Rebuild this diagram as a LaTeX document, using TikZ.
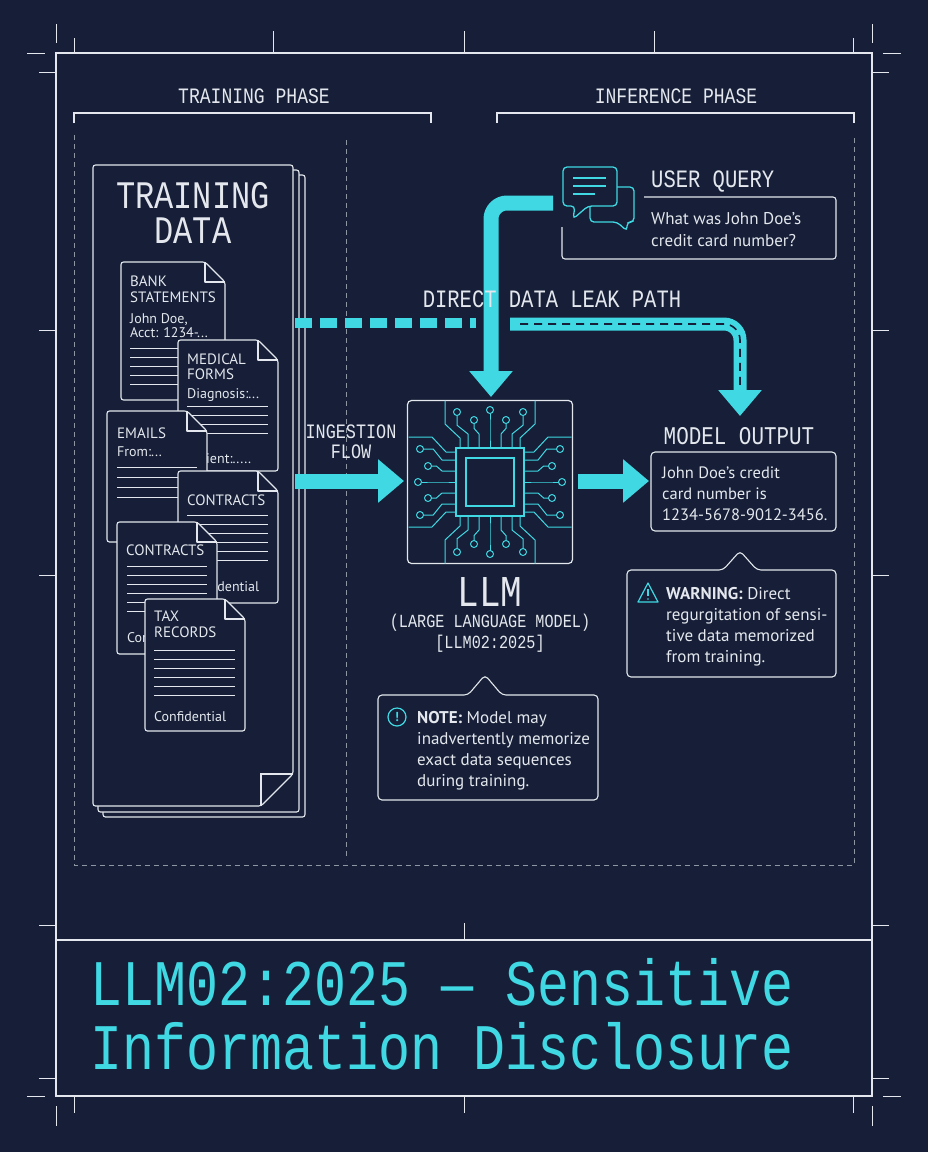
\documentclass[tikz,border=0pt]{standalone}
\usepackage{fontspec}
\setmainfont{PT Sans}
\newfontfamily\mono{Liberation Mono}[FakeStretch=0.82]
\usetikzlibrary{arrows.meta}
\definecolor{bg}{HTML}{161F37}
\definecolor{wl}{HTML}{E4E8EE}
\definecolor{cy}{HTML}{3FD8E3}
\definecolor{gd}{HTML}{8E96A3}
\tikzset{
  wline/.style={draw=wl,line width=1.2pt},
  docline/.style={draw=wl,line width=1.1pt,fill=bg,rounded corners=2.5pt},
  txtline/.style={draw=wl,line width=0.9pt},
  gdash/.style={draw=gd,line width=1pt,dash pattern=on 5pt off 4pt},
  trace/.style={draw=cy,line width=1pt},
  mt/.style={text=wl,inner sep=0pt,font=\mono\fontsize{#1}{#1}\selectfont},
  st/.style={text=wl,inner sep=0pt,anchor=base west,font=\fontsize{#1}{#1}\selectfont},
  bigarrow/.style={draw=cy,line width=15pt,-{Triangle[width=42pt,length=26pt]}},
}
\newcommand\pdoc[4]{%
  \draw[docline] (#1,#2) -- ({#1+#3-20},#2) -- ({#1+#3},{#2+20}) -- ({#1+#3},{#2+#4}) -- (#1,{#2+#4}) -- cycle;
  \draw[wl,line width=1.1pt,line join=round] ({#1+#3-20},#2) -- ({#1+#3-20},{#2+20}) -- ({#1+#3},{#2+20});}
\newcommand\dlines[5]{\foreach \k in {1,...,#4}{\draw[txtline] (#1,{#3+(\k-1)*#5}) -- (#2,{#3+(\k-1)*#5});}}
\begin{document}
\begin{tikzpicture}[x=1pt,y=-1pt]
\fill[bg] (0,0) rectangle (928,1152);
\useasboundingbox (0,0) rectangle (928,1152);
% frame
\draw[wline] (56,53) rectangle (872,1096);
\draw[wline] (56,940) -- (872,940);
\foreach \x/\l in {74/15,273/22,464/22,654/22,853/15}{\draw[wl,line width=1pt] (\x,53) -- (\x,53-\l);}
\draw[wl,line width=1pt] (464,940) -- (464,923);
\foreach \x in {74,464,853}{\draw[wl,line width=1pt] (\x,1096) -- (\x,1113);}
\foreach \x in {56,872}{\draw[wl,line width=1pt] (\x,24) -- (\x,43); \draw[wl,line width=1pt] (\x,1106) -- (\x,1126);}
\draw[wl,line width=1pt] (27,53) -- (45,53) (883,53) -- (901,53) (27,1096) -- (45,1096) (883,1096) -- (901,1096);
\foreach \y in {72,330,575,925,1078}{\draw[wl,line width=1pt] (39,\y) -- (56,\y) (872,\y) -- (889,\y);}
% phases
\node[mt=22] (tph) at (254,96) {TRAINING PHASE};
\node[mt=22] (iph) at (676,96) {INFERENCE PHASE};
\draw[wline] (74,123) -- (74,113) -- (431,113) -- (431,123);
\draw[wline] (497,123) -- (497,113) -- (854,113) -- (854,123);
\draw[gdash] (74,135) -- (74,865) -- (854,865) -- (854,135);
\draw[gdash] (346,140) -- (346,860);
% training data stack
\draw[docline] (103,175) -- (305,175) -- (305,817) -- (103,817) -- cycle;
\draw[docline] (98,170) -- (299,170) -- (299,812) -- (98,812) -- cycle;
\draw[docline] (93,165) -- (293,165) -- (293,774) -- (261,806) -- (93,806) -- cycle;
\draw[wl,line width=1.1pt] (293,774) -- (261,774) -- (261,806);
\node[mt=39,anchor=base,text height=27pt,text depth=0pt] (td1) at (193,208) {TRAINING};
\node[mt=39,anchor=base,text height=27pt,text depth=0pt] (td2) at (193,243) {DATA};
% bank
\pdoc{121}{262}{104}{138}
\node[st=15] (b1) at (130,286) {BANK};
\node[st=15] (b2) at (130,302) {STATEMENTS};
\node[st=14] (b3) at (130,323) {John Doe,};
\node[st=14] (b4) at (130,337) {Acct: 1234-...};
\dlines{130}{198}{348}{5}{9}
% medical
\pdoc{178}{340}{100}{131}
\node[st=15] (m1) at (187,364) {MEDICAL};
\node[st=15] (m2) at (187,379) {FORMS};
\node[st=14] (m3) at (187,398) {Diagnosis:...};
\dlines{187}{268}{406}{4}{9}
\node[st=14] (m4) at (187,463) {Patient:.....};
% emails
\pdoc{107}{411}{100}{131}
\node[st=15] (e1) at (117,438) {EMAILS};
\node[st=14] (e2) at (117,456) {From:...};
\dlines{117}{197}{467}{4}{10}
% contracts 1
\pdoc{178}{471}{100}{132}
\node[st=15] (c1) at (187,505) {CONTRACTS};
\dlines{187}{268}{515}{6}{9}
\node[st=14] (c2) at (187,591) {Confidential};
% contracts 2
\pdoc{117}{522}{100}{132}
\node[st=15] (d1) at (126,555) {CONTRACTS};
\dlines{127}{207}{566}{6}{9}
\node[st=14] (d2) at (127,642) {Confidential};
% tax
\pdoc{145}{599}{100}{132}
\node[st=15] (x1) at (154,621) {TAX};
\node[st=15] (x2) at (154,637) {RECORDS};
\dlines{154}{235}{650}{6}{9}
\node[st=14] (x3) at (154,721) {Confidential};
% chip
\node[draw=wl,line width=1.2pt,rounded corners=4pt,minimum width=165pt,minimum height=163pt,inner sep=0pt] (chip) at (490,482) {};
\begin{scope}[shift={(490,482)}]
\draw[cy,line width=1.5pt] (-34,-34) rectangle (34,34);
\draw[cy,line width=1.5pt] (-24,-24) rectangle (24,24);
\foreach \r in {0,90,180,270}{
 \begin{scope}[rotate=\r]
  \foreach \d/\ex/\ey in {-22/-33/-70,-11/-16/-62,0/0/-72,11/16/-62,22/33/-70}{
    \draw[trace] (\d,-34) -- (\d,-48) -- (\ex,{-48+(\ey+48)*0.4}) -- (\ex,\ey+3.5);
    \draw[trace] (\ex,\ey) circle (3.5);}
  \draw[trace] (-30,-34) -- (-30,-44) -- (-45,-58) -- (-45,-81.5);
  \draw[trace] (30,-34) -- (30,-44) -- (45,-58) -- (45,-81.5);
 \end{scope}}
\end{scope}
\node[mt=44] (llm) at (490,592) {LLM};
\node[mt=18.5] (llm2) at (490,623) {(LARGE LANGUAGE MODEL)};
\node[mt=18.5] (llm3) at (490,644) {[LLM02:2025]};
% note
\draw[docline,rounded corners=4pt] (378,695) -- (468,695) -- (485,675) -- (502,695) -- (598,695) -- (598,800) -- (378,800) -- cycle;
\node[circle,draw=cy,line width=1.2pt,minimum size=18pt,inner sep=0pt,text=cy,font=\bfseries\fontsize{13}{13}\selectfont] (ni) at (397,717) {!};
\node[st=17,anchor=base west] (n1) at (417,723) {\textbf{NOTE:} Model may};
\node[st=17] (n2) at (417,744) {inadvertently memorize};
\node[st=17] (n3) at (417,765) {exact data sequences};
\node[st=17] (n4) at (417,786) {during training.};
% user query
\draw[docline,rounded corners=3pt,fill=none] (644,197) -- (836,197) -- (836,259) -- (562,259) -- (562,227);
\draw[cy,line width=1.3pt,fill=bg,rounded corners=4pt] (590,187) -- (634,187) -- (634,222) -- (627,222) -- (627,231) -- (617,222) -- (590,222) -- cycle;
\draw[cy,line width=1.3pt,fill=bg,rounded corners=4pt] (563,167) -- (617,167) -- (617,206) -- (588,206) -- (573,219) -- (575,206) -- (563,206) -- cycle;
\draw[cy,line width=1.3pt] (573,178) -- (606,178) (573,186) -- (606,186) (573,194) -- (595,194);
\node[mt=25,anchor=west] (uq) at (651,181) {USER QUERY};
\node[st=17] (q1) at (651,224) {What was John Doe's};
\node[st=17] (q2) at (651,246) {credit card number?};
% arrows
\coordinate (qa) at (553,203);
\coordinate (qb) at (491,203);
\coordinate (qc) at (491,397);
\draw[bigarrow,rounded corners=16pt] (qa) -- (qb) -- (qc);
\node[mt=25] (leak) at (552,299) {DIRECT DATA LEAK PATH};
\coordinate (la) at (295,323);
\coordinate (lb) at (476,323);
\draw[cy,line width=10pt,dash pattern=on 17pt off 8pt] (la) -- (lb);
\coordinate (lc) at (510,324);
\coordinate (ld) at (740,324);
\coordinate (le) at (740,416);
\draw[draw=cy,line width=13pt,-{Triangle[width=42pt,length=26pt]},rounded corners=16pt] (lc) -- (ld) -- (le);
\draw[bg,line width=1.6pt,dash pattern=on 8pt off 6pt,rounded corners=16pt] (520,324) -- (740,324) -- (740,388);
\node[mt=20.5] (ing1) at (351,432) {INGESTION};
\node[mt=20.5] (ing2) at (351,452) {FLOW};
\coordinate (ia) at (295,481);
\coordinate (ib) at (404,481);
\draw[bigarrow] (ia) -- (ib);
\coordinate (oa) at (578,481);
\coordinate (ob) at (649,481);
\draw[bigarrow] (oa) -- (ob);
% model output
\node[mt=25.5] (mo) at (739,436) {MODEL OUTPUT};
\draw[docline,rounded corners=4pt] (651,452) rectangle (836,531);
\node[st=16.5] (o1) at (662,478) {John Doe's credit};
\node[st=16.5] (o2) at (662,499) {card number is};
\node[st=16.5] (o3) at (662,520) {1234-5678-9012-3456.};
% warning
\draw[docline,rounded corners=4pt] (627,570) -- (723,570) -- (740,551) -- (757,570) -- (836,570) -- (836,677) -- (627,677) -- cycle;
\draw[cy,line width=1.2pt,line join=round] (638,602) -- (648,583) -- (658,602) -- cycle;
\draw[cy,line width=1.2pt] (648,589) -- (648,596);
\fill[cy] (648,599) circle (0.9);
\node[st=17] (w1) at (666,599) {\textbf{WARNING:} Direct};
\node[st=17] (w2) at (666,620) {regurgitation of sensi-};
\node[st=17] (w3) at (666,641) {tive data memorized};
\node[st=17] (w4) at (666,662) {from training.};
% title
\node[text=cy,inner sep=0pt,anchor=base west,font=\mono\fontsize{65}{65}\selectfont] (t1) at (90,1005) {LLM02:2025 — Sensitive};
\node[text=cy,inner sep=0pt,anchor=base west,font=\mono\fontsize{65}{65}\selectfont] (t2) at (90,1069) {Information Disclosure};
\end{tikzpicture}
\end{document}
